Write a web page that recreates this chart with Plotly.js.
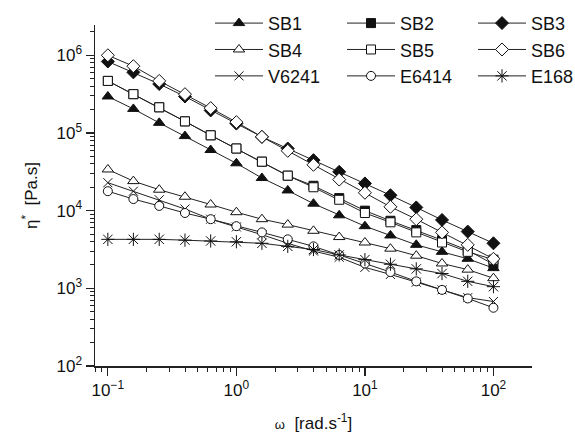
<!DOCTYPE html>
<html><head><meta charset="utf-8">
<script src="https://cdn.plot.ly/plotly-3.0.1.min.js"></script>
<style>html,body{margin:0;padding:0;background:#fff}#chart{width:575px;height:439px}</style>
</head><body><div id="chart"></div>
<script>
const omega = [0.1, 0.158, 0.251, 0.398, 0.631, 1, 1.58, 2.51, 3.98, 6.31, 10, 15.8, 25.1, 39.8, 63.1, 100];
const seriesNames = ["SB1","SB2","SB3","SB4","SB5","SB6","V6241","E6414","E168"];
const SB1 = [295000, 204000, 135000, 91200, 60300, 40700, 26300, 18200, 12300, 8710, 6310, 4790, 3630, 2950, 2400, 1820];
const SB2 = [468000, 316000, 214000, 141000, 93300, 63100, 42700, 28200, 20900, 14500, 10000, 7410, 5620, 4170, 3090, 2040];
const SB3 = [832000, 603000, 427000, 295000, 195000, 132000, 89100, 63100, 44700, 31600, 22400, 15800, 11000, 7590, 5370, 3800];
const SB4 = [33900, 24000, 18600, 15100, 12000, 9550, 7760, 6610, 5500, 4570, 3890, 3240, 2630, 2090, 1740, 1350];
const SB5 = [468000, 316000, 214000, 141000, 93300, 63100, 42700, 28200, 20000, 13800, 9330, 7080, 5250, 3890, 2950, 2340];
const SB6 = [1000000, 724000, 468000, 316000, 209000, 138000, 89100, 58900, 38900, 25100, 17000, 11200, 7760, 5250, 3630, 2400];
const V6241 = [22900, 17800, 13800, 10500, 7760, 6170, 4900, 3800, 3020, 2510, 1860, 1510, 1200, 955, 759, 676];
const E6414 = [17800, 14100, 11500, 9330, 7760, 6310, 5250, 4270, 3470, 2690, 2090, 1620, 1230, 955, 741, 562];
const E168 = [4270, 4270, 4270, 4170, 4070, 3980, 3800, 3470, 3160, 2690, 2340, 2040, 1780, 1550, 1230, 1050];

const xTickVals = [0.1, 1, 10, 100];
const xTickText = ["10<sup>−1</sup>", "10<sup>0</sup>", "10<sup>1</sup>", "10<sup>2</sup>"];
const yTickVals = [100, 1000, 10000, 100000, 1000000];
const yTickText = ["10<sup>2</sup>", "10<sup>3</sup>", "10<sup>4</sup>", "10<sup>5</sup>", "10<sup>6</sup>"];

function minorVals(decades) {
  const out = [];
  decades.forEach(d => { for (let k = 2; k <= 9; k++) out.push(k * d); });
  return out;
}
const xMinor = minorVals([0.01, 0.1, 1, 10, 100]);
const yMinor = minorVals([100, 1000, 10000, 100000, 1000000]);

const values = [SB1, SB2, SB3, SB4, SB5, SB6, V6241, E6414, E168];
const symbols = ["triangle-up","square","diamond","triangle-up","square","diamond","x-thin-open","circle","asterisk-open"];
const fills = ["#111","#111","#111","#fff","#fff","#fff","#111","#fff","#111"];
const sizes = [10, 9, 10, 10, 9, 10, 9, 9, 11];
const legendOf = ["legend","legend2","legend3","legend","legend2","legend3","legend","legend2","legend3"];

const traces = seriesNames.map((n, i) => ({
  x: omega, y: values[i], name: n, type: 'scatter', mode: 'lines+markers',
  legend: legendOf[i],
  line: {color: '#222', width: 1},
  marker: {symbol: symbols[i], size: sizes[i], color: fills[i], line: {color: '#111', width: 1}}
}));

const family = '"Liberation Sans", Arial, sans-serif';
const font = {family: family, size: 17, color: '#111'};
const axisCommon = {
  type: 'log', showline: true, linecolor: '#222', linewidth: 1.5, mirror: false,
  ticks: 'outside', ticklen: 8, tickwidth: 1.2, tickcolor: '#222',
  showgrid: false, zeroline: false, tickfont: {size: 17, color: '#111'}, tickmode: 'array'
};
function leg(xpx) {
  return {orientation: 'v', x: (xpx - 95) / 437, xanchor: 'left', y: 1.059, yanchor: 'top',
    itemwidth: 48, font: {family: family, size: 18, color: '#111'},
    bgcolor: 'rgba(0,0,0,0)', traceorder: 'normal', tracegroupgap: 0};
}
const layout = {
  width: 575, height: 439,
  margin: {l: 95, r: 43, t: 25, b: 73, autoexpand: false},
  paper_bgcolor: '#fff', plot_bgcolor: '#fff',
  font: font,
  showlegend: true,
  legend: leg(210), legend2: leg(342), legend3: leg(473),
  xaxis: Object.assign({}, axisCommon, {range: [-1.10, 2.30], tickvals: xTickVals, ticktext: xTickText,
    minor: {tickmode: 'array', tickvals: xMinor, ticks: 'outside', ticklen: 4, tickcolor: '#222', tickwidth: 1, showgrid: false},
    title: {text: '<span style="font-size:13px">ω</span>  [rad.s<sup>-1</sup>]', font: {size: 17, color: '#111'}, standoff: 18}}),
  yaxis: Object.assign({}, axisCommon, {range: [2, 6.39], tickvals: yTickVals, ticktext: yTickText,
    minor: {tickmode: 'array', tickvals: yMinor, ticks: 'outside', ticklen: 4, tickcolor: '#222', tickwidth: 1, showgrid: false},
    title: {text: 'η<sup>*</sup>  [Pa.s]', font: {size: 17, color: '#111'}, standoff: 14}})
};
Plotly.newPlot('chart', traces, layout, {displayModeBar: false, staticPlot: true});
</script></body></html>
